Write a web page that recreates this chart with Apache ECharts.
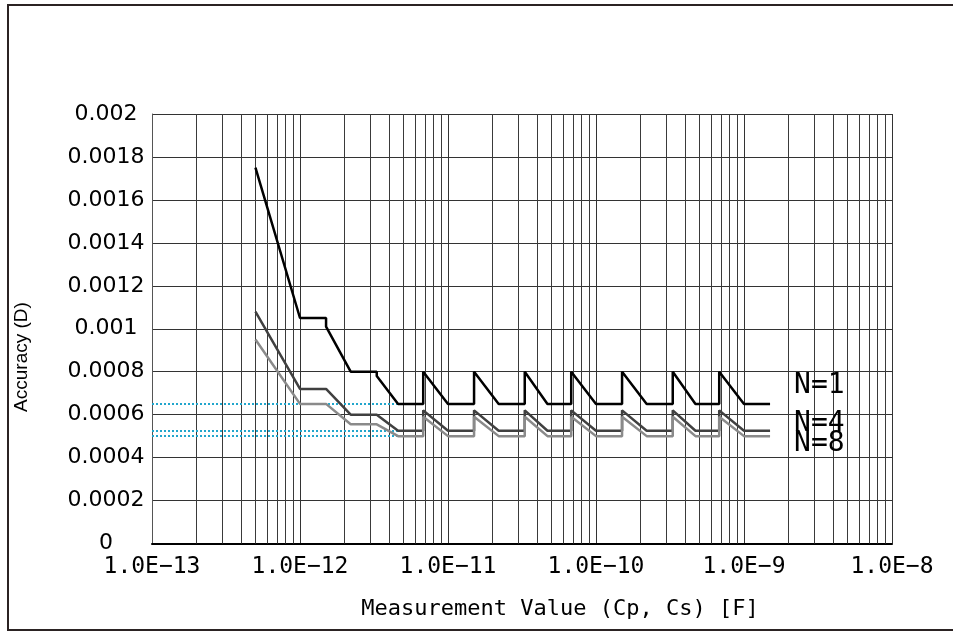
<!DOCTYPE html>
<html>
<head>
<meta charset="utf-8">
<script src="https://cdn.jsdelivr.net/npm/echarts@6/dist/echarts.min.js"></script>
<style>
html,body{margin:0;padding:0;background:#fff;}
#c{width:953px;height:632px;}
</style>
</head>
<body>
<div id="c"></div>
<script>
// ---- data ----
var xValues = [5e-13, 1e-12, 1.5e-12, 1.5e-12, 2.2e-12, 3.3e-12, 3.3e-12, 4.6e-12, 6.8e-12, 6.8e-12,
  1e-11, 1.5e-11, 1.5e-11, 2.2e-11, 3.3e-11, 3.3e-11, 4.7e-11, 6.8e-11, 6.8e-11,
  1e-10, 1.5e-10, 1.5e-10, 2.2e-10, 3.3e-10, 3.3e-10, 4.7e-10, 6.8e-10, 6.8e-10,
  1e-9, 1.5e-9];
var n1Values = [0.00175, 0.00105, 0.00105, 0.00101, 0.0008, 0.0008, 0.00078, 0.00065, 0.00065, 0.0008,
  0.00065, 0.00065, 0.0008, 0.00065, 0.00065, 0.0008, 0.00065, 0.00065, 0.0008,
  0.00065, 0.00065, 0.0008, 0.00065, 0.00065, 0.0008, 0.00065, 0.00065, 0.0008,
  0.00065, 0.00065];
var n4Values = [0.00108, 0.00072, 0.00072, 0.00072, 0.0006, 0.0006, 0.0006, 0.000525, 0.000525, 0.00062,
  0.000525, 0.000525, 0.00062, 0.000525, 0.000525, 0.00062, 0.000525, 0.000525, 0.00062,
  0.000525, 0.000525, 0.00062, 0.000525, 0.000525, 0.00062, 0.000525, 0.000525, 0.00062,
  0.000525, 0.000525];
var n8Values = [0.00095, 0.00065, 0.00065, 0.00065, 0.000555, 0.000555, 0.000555, 0.0005, 0.0005, 0.00059,
  0.0005, 0.0005, 0.00059, 0.0005, 0.0005, 0.00059, 0.0005, 0.0005, 0.00059,
  0.0005, 0.0005, 0.00059, 0.0005, 0.0005, 0.00059, 0.0005, 0.0005, 0.00059,
  0.0005, 0.0005];
var seriesNames = ['N=1', 'N=4', 'N=8'];
var refLevels = [0.00065, 0.000525, 0.0005];
var refFrom = 1e-13, refTo = 4.6e-12;
var xTickLabels = ['1.0E\u221213', '1.0E\u221212', '1.0E\u221211', '1.0E\u221210', '1.0E\u22129', '1.0E\u22128'];
var yTickLabels = ['0', '0.0002', '0.0004', '0.0006', '0.0008', '0.001', '0.0012', '0.0014', '0.0016', '0.0018', '0.002'];
var xTitle = 'Measurement Value (Cp, Cs) [F]';
var yTitle = 'Accuracy (D)';

// ---- build ----
var Y_MIN = 0, Y_MAX = 0.002;
function pairs(ys){ return xValues.map(function(x,i){ return [x, ys[i]]; }); }
var minorLines = [];
for (var d = -13; d <= -9; d++) {
  for (var m = 2; m <= 9; m++) {
    var v = m * Math.pow(10, d);
    minorLines.push([{ coord: [v, Y_MIN] }, { coord: [v, Y_MAX] }]);
  }
}
var refLines = refLevels.map(function(v){ return [{ coord: [refFrom, v] }, { coord: [refTo, v] }]; });

var chart = echarts.init(document.getElementById('c'), null, { renderer: 'canvas' });
var lineColors = ['#000000', '#404040', '#8a8a8a'];
var labelOffsets = [[0, -18], [0, -7], [0, 8]];
var allData = [n1Values, n4Values, n8Values];

var series = [{
  type: 'line', data: [[1e-13, 0]], z: 1, silent: true, showSymbol: false, symbol: 'none',
  lineStyle: { opacity: 0 },
  markLine: {
    silent: true, symbol: 'none', animation: false,
    label: { show: false },
    lineStyle: { color: '#3a3a3a', width: 1, type: 'solid' },
    data: minorLines
  }
}, {
  type: 'line', data: [[1e-13, 0]], z: 2, silent: true, showSymbol: false, symbol: 'none',
  lineStyle: { opacity: 0 },
  markLine: {
    silent: true, symbol: 'none', animation: false,
    label: { show: false },
    lineStyle: { color: '#22a6cc', width: 2, type: [2, 2] },
    data: refLines
  }
}];
allData.forEach(function(ys, i){
  series.push({
    name: seriesNames[i], type: 'line', data: pairs(ys), z: 5,
    showSymbol: false, symbol: 'none', animation: false,
    lineStyle: { color: lineColors[i], width: 2.5 },
    endLabel: {
      show: true, formatter: seriesNames[i], distance: 24, offset: labelOffsets[i],
      fontFamily: 'DejaVu Sans Mono', fontSize: 28, color: '#000'
    }
  });
});

chart.setOption({
  animation: false,
  backgroundColor: '#fff',
  grid: { left: 152, right: 61, top: 114, bottom: 88.5, containLabel: false },
  xAxis: {
    type: 'log', logBase: 10, min: 1e-13, max: 1e-8,
    axisLine: { show: true, lineStyle: { color: '#000', width: 2 } },
    axisTick: { show: false },
    splitLine: { show: true, lineStyle: { color: '#333', width: 1 } },
    axisLabel: {
      margin: 12, fontFamily: 'DejaVu Sans Mono', fontSize: 23, color: '#000',
      formatter: function(v){ return xTickLabels[Math.round(Math.log10(v)) + 13]; }
    }
  },
  yAxis: {
    type: 'value', min: Y_MIN, max: Y_MAX, interval: 0.0002,
    axisLine: { show: true, lineStyle: { color: '#555', width: 1 } },
    axisTick: { show: false },
    splitLine: { show: true, lineStyle: { color: '#333', width: 1 } },
    axisLabel: {
      margin: 46, align: 'center', fontFamily: 'DejaVu Sans', fontSize: 22, color: '#000',
      formatter: function(v){ return yTickLabels[Math.round(v / 0.0002)]; }
    }
  },
  graphic: [
    { type: 'rect', z: 100, silent: true, shape: { x: 8, y: 5, width: 960, height: 625 },
      style: { fill: 'none', stroke: '#2b2323', lineWidth: 2 } },
    { type: 'text', z: 100, x: 560, y: 609, silent: true,
      style: { text: xTitle, fontFamily: 'DejaVu Sans Mono', fontSize: 22, fill: '#000', align: 'center', verticalAlign: 'middle' } },
    { type: 'text', z: 100, x: 22, y: 357, rotation: Math.PI / 2, silent: true,
      style: { text: yTitle, fontFamily: 'Liberation Sans', fontSize: 19, fill: '#000', align: 'center', verticalAlign: 'middle' } }
  ],
  series: series
});
</script>
</body>
</html>
